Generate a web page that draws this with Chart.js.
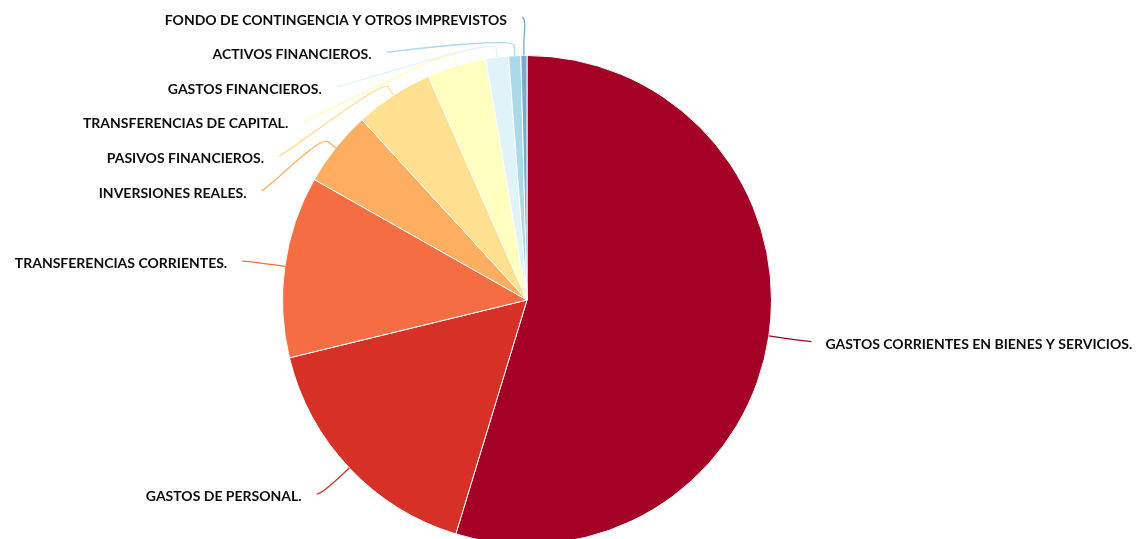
<!DOCTYPE html>
<html>
<head>
<meta charset="utf-8">
<script src="https://cdn.jsdelivr.net/npm/chart.js@4/dist/chart.umd.min.js"></script>
<style>
  html, body { margin: 0; padding: 0; overflow: hidden; background: #ffffff; width: 1137px; height: 539px; }
  #wrap { position: relative; width: 1137px; height: 600px; }
</style>
</head>
<body>
<div id="wrap"><canvas id="c" width="1137" height="600"></canvas></div>
<script>
const categories = [
  'GASTOS CORRIENTES EN BIENES Y SERVICIOS.',
  'GASTOS DE PERSONAL.',
  'TRANSFERENCIAS CORRIENTES.',
  'INVERSIONES REALES.',
  'PASIVOS FINANCIEROS.',
  'TRANSFERENCIAS DE CAPITAL.',
  'GASTOS FINANCIEROS.',
  'ACTIVOS FINANCIEROS.',
  'FONDO DE CONTINGENCIA Y OTROS IMPREVISTOS'
];
const values = [54.7, 16.5, 12.0, 5.0, 5.2, 3.9, 1.5, 0.8, 0.4];
const colors = ['#a50026', '#d73027', '#f46d43', '#fdae61', '#fee090', '#ffffbf', '#e0f3f8', '#abd9e9', '#74add1'];

function distribute(list, slot, minY, maxY) {
  list.sort((a, b) => a.target - b.target);
  const groups = list.map(it => ({ items: [it] }));
  const place = g => {
    const n = g.items.length;
    const mean = g.items.reduce((s, it) => s + it.target, 0) / n;
    let start = mean - (n - 1) * slot / 2;
    start = Math.max(minY, Math.min(start, maxY - (n - 1) * slot));
    g.start = start;
  };
  groups.forEach(place);
  let changed = true;
  while (changed) {
    changed = false;
    for (let i = 0; i < groups.length - 1; i++) {
      const a = groups[i], b = groups[i + 1];
      if (a.start + a.items.length * slot > b.start + 1e-6) {
        a.items = a.items.concat(b.items);
        groups.splice(i + 1, 1);
        place(a);
        changed = true;
        break;
      }
    }
  }
  groups.forEach(g => g.items.forEach((it, k) => { it.y = g.start + k * slot; }));
}

const labelPlugin = {
  id: 'pieLabels',
  afterDraw(chart) {
    const ctx = chart.ctx;
    const meta = chart.getDatasetMeta(0);
    const labelGap = 38, breakGap = 10, slot = 34.6;
    const left = [], right = [];
    let cx = 0, cy = 0, R = 0;
    meta.data.forEach((arc, i) => {
      const p = arc.getProps(['x', 'y', 'startAngle', 'endAngle', 'outerRadius'], true);
      cx = p.x; cy = p.y;
      const r = p.outerRadius;
      R = r + labelGap;
      const mid = (p.startAngle + p.endAngle) / 2;
      const c = Math.cos(mid), s = Math.sin(mid);
      const item = {
        i, isLeft: c < 0,
        target: cy + R * s,
        touch: { x: cx + r * c, y: cy + r * s },
        brk: { x: cx + (r + breakGap) * c, y: cy + (r + breakGap) * s }
      };
      (item.isLeft ? left : right).push(item);
    });
    distribute(left, slot, cy - R, cy + R);
    distribute(right, slot, cy - R, cy + R);
    ctx.save();
    ctx.font = 'bold 14px Lato, "Open Sans", sans-serif';
    ctx.textBaseline = 'middle';
    [...left, ...right].forEach(it => {
      const dy = it.y - cy;
      const dx = Math.sqrt(Math.max(0, R * R - dy * dy)) + 5;
      const ex = it.isLeft ? cx - dx : cx + dx;
      ctx.strokeStyle = colors[it.i];
      ctx.lineWidth = 1.3;
      ctx.beginPath();
      ctx.moveTo(ex, it.y);
      ctx.bezierCurveTo(ex + (it.isLeft ? 5 : -5), it.y,
        2 * it.brk.x - it.touch.x, 2 * it.brk.y - it.touch.y,
        it.brk.x, it.brk.y);
      ctx.lineTo(it.touch.x, it.touch.y);
      ctx.stroke();
      ctx.fillStyle = '#0d0d0d';
      ctx.textAlign = it.isLeft ? 'right' : 'left';
      ctx.fillText(categories[it.i], it.isLeft ? ex - 15 : ex + 14, it.y + 2.5);
    });
    ctx.restore();
  }
};

new Chart(document.getElementById('c'), {
  type: 'pie',
  data: {
    labels: categories,
    datasets: [{
      data: values,
      backgroundColor: colors,
      borderColor: '#ffffff',
      borderWidth: 1
    }]
  },
  options: {
    responsive: false,
    animation: false,
    devicePixelRatio: 1,
    layout: { padding: { top: 55, bottom: 55, left: 282, right: 365 } },
    plugins: { legend: { display: false }, tooltip: { enabled: false } }
  },
  plugins: [labelPlugin]
});
</script>
</body>
</html>
